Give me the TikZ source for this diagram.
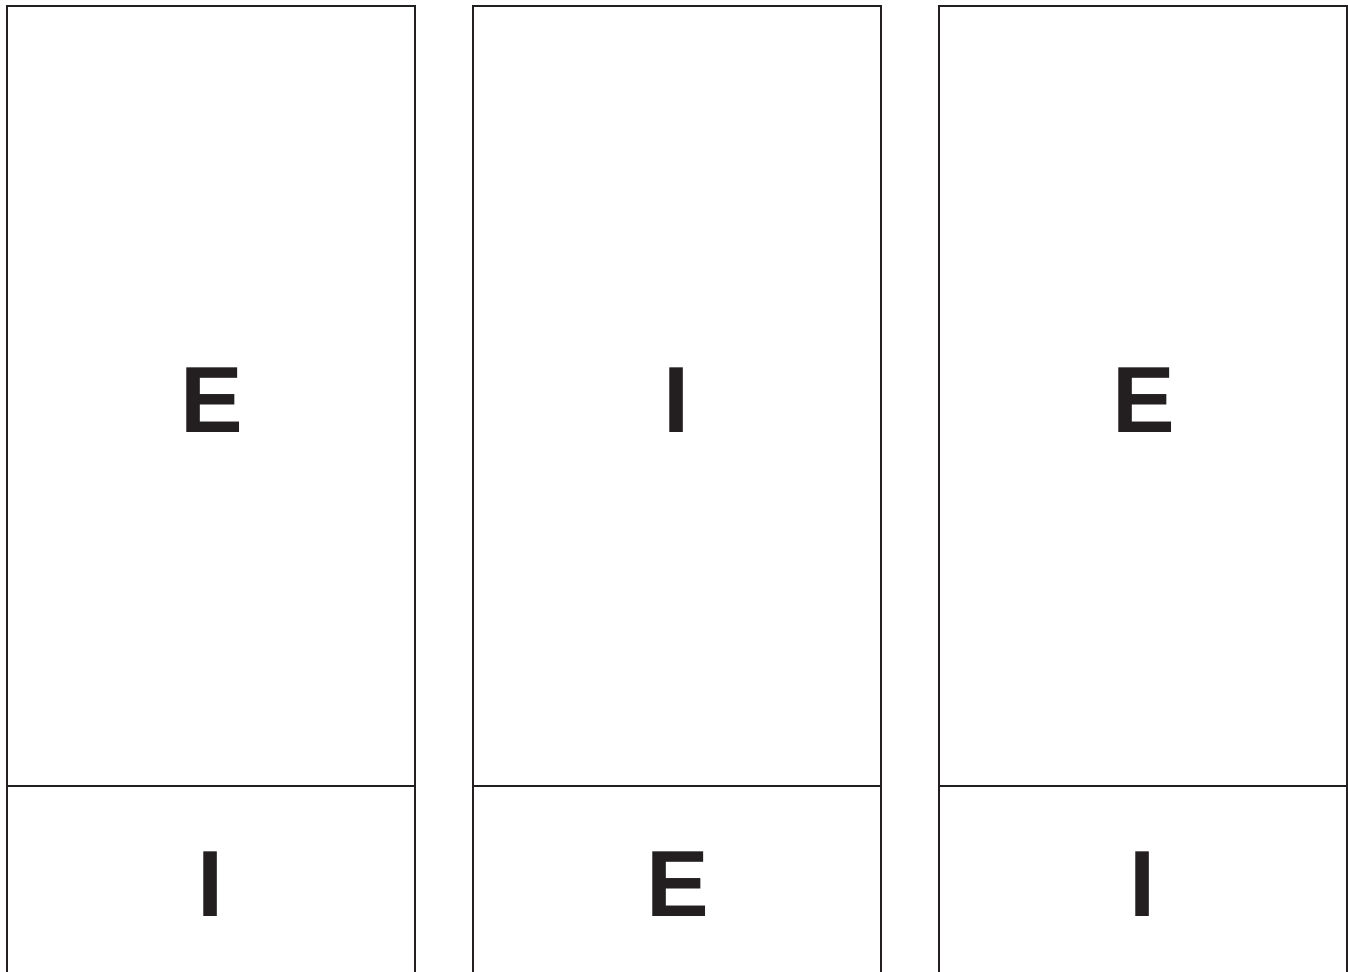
\documentclass[tikz,border=0pt]{standalone}
\usepackage{fontspec}
\setmainfont{Liberation Sans}
\definecolor{ink}{HTML}{231F20}

\begin{document}
\begin{tikzpicture}[
    x=0.5pt, y=-0.5pt,
    panel/.style={draw=ink, line width=1pt},
    letter/.style={text=ink, inner sep=0pt, font=\fontsize{47}{47}\selectfont\bfseries}
]
\useasboundingbox (0,0) rectangle (1348,972);

% === Left column: E over I ===
\begin{scope}[shift={(7,0)}]
    \draw[panel] (0,972) -- (0,6) -- (408,6) -- (408,972);
    \draw[panel] (0,786) -- (408,786);
    \node[letter] (top1) at (205,400) {E};
    \node[letter] (bot1) at (204,884) {I};
\end{scope}

% === Middle column: I over E ===
\begin{scope}[shift={(473,0)}]
    \draw[panel] (0,972) -- (0,6) -- (408,6) -- (408,972);
    \draw[panel] (0,786) -- (408,786);
    \node[letter] (top2) at (204,400) {I};
    \node[letter] (bot2) at (205,884) {E};
\end{scope}

% === Right column: E over I ===
\begin{scope}[shift={(939,0)}]
    \draw[panel] (0,972) -- (0,6) -- (408,6) -- (408,972);
    \draw[panel] (0,786) -- (408,786);
    \node[letter] (top3) at (205,400) {E};
    \node[letter] (bot3) at (204,884) {I};
\end{scope}

\end{tikzpicture}
\end{document}
